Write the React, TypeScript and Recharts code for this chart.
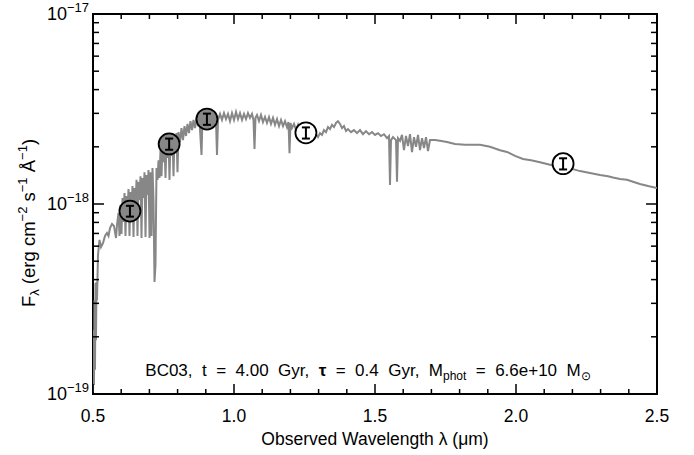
import React from 'react';
import { ComposedChart, Line, XAxis, YAxis, Customized } from 'recharts';

// Spectrum: observed wavelength (micron) and flux density (units of 1e-18 erg cm^-2 s^-1 A^-1)
const specWave = [
  0.5000, 0.5018, 0.5035, 0.5053, 0.5071, 0.5089, 0.5106, 0.5124, 0.5142, 0.5177,
  0.5230, 0.5284, 0.5355, 0.5426, 0.5496, 0.5550, 0.5603, 0.5674, 0.5745, 0.5816,
  0.5851, 0.5904, 0.5940,
  0.5975, 0.6011, 0.6046, 0.6082, 0.6117, 0.6152, 0.6188, 0.6223, 0.6259, 0.6294,
  0.6330, 0.6365, 0.6401, 0.6436, 0.6472, 0.6507, 0.6543, 0.6578, 0.6613, 0.6649,
  0.6684, 0.6720, 0.6755, 0.6791, 0.6826, 0.6862, 0.6897, 0.6933, 0.6968, 0.7004,
  0.7039, 0.7074, 0.7110, 0.7145, 0.7181, 0.7216, 0.7252, 0.7287,
  0.7323, 0.7358, 0.7394, 0.7429, 0.7465, 0.7500, 0.7535, 0.7571, 0.7606, 0.7642,
  0.7677, 0.7713, 0.7748, 0.7784, 0.7819, 0.7855, 0.7890, 0.7926, 0.7961, 0.7996,
  0.8032, 0.8085, 0.8138, 0.8191, 0.8245, 0.8298, 0.8351, 0.8404, 0.8457, 0.8511,
  0.8564, 0.8617, 0.8670, 0.8723, 0.8777, 0.8848, 0.8883, 0.8936, 0.9007, 0.9078,
  0.9149, 0.9220, 0.9291, 0.9362, 0.9397, 0.9433, 0.9504, 0.9574, 0.9645, 0.9716,
  0.9787, 0.9858, 0.9929, 1.0000, 1.0071, 1.0142, 1.0213, 1.0284, 1.0355, 1.0426,
  1.0496, 1.0567, 1.0638, 1.0691, 1.0727, 1.0762, 1.0816, 1.0887, 1.0957, 1.1028,
  1.1099, 1.1170, 1.1241, 1.1312, 1.1383, 1.1454, 1.1525, 1.1596, 1.1667, 1.1738,
  1.1809, 1.1879, 1.1933, 1.1968, 1.2004, 1.2057, 1.2128, 1.2199, 1.2270, 1.2340,
  1.2411, 1.2482, 1.2553, 1.2624, 1.2695, 1.2766, 1.2837, 1.2908, 1.2979, 1.3050,
  1.3121, 1.3191, 1.3262, 1.3333, 1.3404, 1.3475, 1.3546, 1.3617, 1.3688, 1.3759,
  1.3830, 1.3901, 1.3972, 1.4043, 1.4149, 1.4255, 1.4362, 1.4468, 1.4574, 1.4681,
  1.4787, 1.4894, 1.5000, 1.5106, 1.5213, 1.5319, 1.5426, 1.5496, 1.5532, 1.5567,
  1.5638, 1.5745, 1.5780, 1.5816, 1.5887, 1.5957, 1.6028, 1.6099, 1.6170, 1.6241,
  1.6312, 1.6383, 1.6454, 1.6525, 1.6596, 1.6667, 1.6738, 1.6809, 1.6879, 1.6950,
  1.7128, 1.7305, 1.7553, 1.7837, 1.8191, 1.8723, 1.9078, 1.9433, 1.9681, 1.9965,
  2.0248, 2.0532, 2.0851, 2.1135, 2.1383, 2.1667, 2.1986, 2.2270, 2.2624, 2.2979,
  2.3262, 2.3440, 2.3688, 2.3936, 2.4149, 2.4397, 2.4681, 2.5000,
];
const specFlux = [
  0.1025, 0.217, 0.1115, 0.312, 0.134, 0.384, 0.192, 0.389, 0.312, 0.539,
  0.647, 0.594, 0.623, 0.679, 0.704, 0.679, 0.748, 0.785, 0.766, 0.662,
  0.775, 0.897, 0.679,
  0.988, 0.695, 1.075, 0.804, 1.143, 0.679, 1.102, 0.886, 1.199, 0.679,
  1.156, 0.930, 1.244, 0.670, 1.214, 0.988, 1.340, 0.679, 1.310, 1.050,
  1.400, 0.662, 1.370, 1.075, 1.470, 0.670, 1.420, 1.115, 1.510, 0.662,
  1.470, 0.679, 1.545, 1.050, 0.389, 0.478, 1.545, 1.340,
  1.700, 1.370, 1.920, 1.400, 2.020, 1.660, 2.050, 1.370, 2.090, 1.746,
  2.170, 1.340, 2.170, 1.790, 2.250, 1.400, 2.280, 1.920, 2.360, 1.470,
  2.390, 2.120, 2.510, 2.170, 2.570, 2.280, 2.640, 2.360, 2.730, 2.450,
  2.770, 2.510, 2.840, 2.570, 2.730, 1.810, 2.840, 2.640, 2.900, 2.700,
  2.870, 2.670, 2.940, 2.700, 1.810, 2.770, 2.980, 2.770, 3.010, 2.800,
  2.980, 2.730, 3.010, 2.770, 3.050, 2.800, 3.010, 2.770, 2.980, 2.800,
  3.010, 2.840, 2.980, 2.770, 1.946, 2.840, 2.940, 2.730, 2.940, 2.700,
  2.870, 2.670, 2.870, 2.640, 2.840, 2.610, 2.800, 2.570, 2.770, 2.570,
  2.730, 2.540, 2.700, 1.850, 2.670, 2.510, 2.640, 2.450, 2.610, 2.420,
  2.540, 2.390, 2.510, 2.360, 2.570, 2.420, 2.510, 2.330, 2.250, 2.360,
  2.310, 2.450, 2.390, 2.540, 2.480, 2.610, 2.540, 2.670, 2.730, 2.640,
  2.510, 2.570, 2.420, 2.480, 2.390, 2.450, 2.360, 2.450, 2.330, 2.420,
  2.330, 2.390, 2.310, 2.360, 2.280, 2.330, 2.220, 2.280, 1.260, 2.170,
  2.250, 2.170, 1.310, 2.220, 2.150, 2.310, 1.920, 2.280, 2.020, 2.330,
  1.877, 2.250, 2.000, 2.310, 1.920, 2.220, 1.970, 2.250, 1.900, 2.170,
  2.170, 2.150, 2.120, 2.070, 2.050, 2.050, 2.000, 1.920, 1.880, 1.790,
  1.725, 1.700, 1.660, 1.620, 1.585, 1.570, 1.530, 1.490, 1.456, 1.420,
  1.400, 1.378, 1.354, 1.340, 1.310, 1.274, 1.243, 1.214,
];

// Photometry
const photWave = [0.631, 0.770, 0.904, 1.255, 2.167];
const photFlux = [0.918, 2.07, 2.80, 2.37, 1.63];
const photErr = [0.06, 0.14, 0.19, 0.16, 0.11];

// Axes
const xTicks = [0.5, 0.6, 0.7, 0.8, 0.9, 1.0, 1.1, 1.2, 1.3, 1.4, 1.5, 1.6, 1.7, 1.8, 1.9, 2.0, 2.1, 2.2, 2.3, 2.4, 2.5];
const xMajor = [0.5, 1.0, 1.5, 2.0, 2.5];
const xMajorLabels = ['0.5', '1.0', '1.5', '2.0', '2.5'];
const yTicks = [0.1, 0.2, 0.3, 0.4, 0.5, 0.6, 0.7, 0.8, 0.9, 1, 2, 3, 4, 5, 6, 7, 8, 9, 10];
const yMajor = [0.1, 1, 10];
const yMajorExp = ['\u221219', '\u221218', '\u221217'];

const W = 694;
const H = 455;
const PL = 93, PR = 657, PT = 14, PB = 394;
const FONT = '"Liberation Sans", Arial, Helvetica, sans-serif';
const GRAY = '#878787';

const spectrum = specWave.map((w, i) => ({ w, f: specFlux[i] }));
// each photometric point: lower end, centre, upper end (centre carries the circle)
const photPts = photWave.flatMap((w, i) => [
  { w, f: photFlux[i] - photErr[i], part: 'lo' },
  { w, f: photFlux[i], part: 'mid' },
  { w, f: photFlux[i] + photErr[i], part: 'hi' },
]);

const findIdx = (arr: number[], v: number) => arr.findIndex((m) => Math.abs(m - v) < 1e-6);

const XTick = (props: any) => {
  const { x, payload } = props;
  const mi = findIdx(xMajor, payload.value);
  const len = mi >= 0 ? 10 : 5;
  return (
    <g>
      <line x1={x} x2={x} y1={PB} y2={PB - len} stroke="#000" strokeWidth={1.5} />
      <line x1={x} x2={x} y1={PT} y2={PT + len} stroke="#000" strokeWidth={1.5} />
      {mi >= 0 && (
        <text x={x} y={PB + 28} textAnchor="middle" fontSize={17.5} fontFamily={FONT} fill="#000">
          {xMajorLabels[mi]}
        </text>
      )}
    </g>
  );
};

const YTick = (props: any) => {
  const { y, payload } = props;
  const mi = findIdx(yMajor, payload.value);
  const len = mi >= 0 ? 11 : 6;
  return (
    <g>
      <line x1={PL} x2={PL + len} y1={y} y2={y} stroke="#000" strokeWidth={1.5} />
      <line x1={PR} x2={PR - len} y1={y} y2={y} stroke="#000" strokeWidth={1.5} />
      {mi >= 0 && (
        <text x={PL - 4} y={y + 6} textAnchor="end" fontSize={18} fontFamily={FONT} fill="#000">
          10<tspan dy={-8} fontSize={13}>{yMajorExp[mi]}</tspan>
        </text>
      )}
    </g>
  );
};

// Dot renderer: circle + "I" error bar drawn at the centre point, using the
// scaled positions of its neighbouring lower/upper points.
const PhotDot = (props: any) => {
  const { cx, cy, payload, index, points } = props;
  const key = `p${index}`;
  if (cx == null || cy == null || !payload || payload.part !== 'mid') return <g key={key} />;
  const lo = points && points[index - 1];
  const hi = points && points[index + 1];
  const yLo = lo && Number.isFinite(lo.y) ? lo.y : cy + 5;
  const yHi = hi && Number.isFinite(hi.y) ? hi.y : cy - 5;
  const inDense = payload.w < 1.0;
  return (
    <g key={key}>
      <circle cx={cx} cy={cy} r={10.5} fill={inDense ? GRAY : '#fff'} stroke="#000" strokeWidth={1.8} />
      <line x1={cx} x2={cx} y1={yLo} y2={yHi} stroke="#000" strokeWidth={2} />
      <line x1={cx - 4} x2={cx + 4} y1={yLo} y2={yLo} stroke="#000" strokeWidth={2} />
      <line x1={cx - 4} x2={cx + 4} y1={yHi} y2={yHi} stroke="#000" strokeWidth={2} />
    </g>
  );
};

const Decor = () => (
  <g fontFamily={FONT} fill="#000">
    <rect x={PL} y={PT} width={PR - PL} height={PB - PT} fill="none" stroke="#000" strokeWidth={2} />
    <text x={375} y={445} textAnchor="middle" fontSize={17.5}>
      Observed Wavelength λ (μm)
    </text>
    <text transform="translate(35,223) rotate(-90)" textAnchor="middle" fontSize={18.5}>
      F<tspan dy={4} fontSize={13}>λ</tspan>
      <tspan dy={-4}> (erg cm</tspan>
      <tspan dy={-8} fontSize={13}>−2</tspan>
      <tspan dy={8}> s</tspan>
      <tspan dy={-8} fontSize={13}>−1</tspan>
      <tspan dy={8}> Å</tspan>
      <tspan dy={-8} fontSize={13}>−1</tspan>
      <tspan dy={8}>)</tspan>
    </text>
    <text x={368} y={376} textAnchor="middle" fontSize={17} style={{ whiteSpace: 'pre' }}>
      {'BC03,  t  =  4.00  Gyr,  '}
      <tspan fontWeight="bold">τ</tspan>
      {'  =  0.4  Gyr,  M'}
      <tspan dy={4} fontSize={12}>phot</tspan>
      <tspan dy={-4}>{'  =  6.6e+10  M'}</tspan>
      <tspan dy={4} fontSize={12}>⊙</tspan>
    </text>
  </g>
);

export default function App() {
  return (
    <div style={{ position: 'absolute', left: 0, top: 0, width: W, height: H, background: '#fff' }}>
      <ComposedChart width={W} height={H} margin={{ top: PT, right: W - PR, bottom: 11, left: 13 }}>
        <XAxis
          type="number"
          dataKey="w"
          domain={[0.5, 2.5]}
          ticks={xTicks}
          interval={0}
          allowDataOverflow
          axisLine={false}
          tickLine={false}
          tick={(p: any) => <XTick {...p} />}
          height={50}
        />
        <YAxis
          type="number"
          scale="log"
          domain={[0.1, 10]}
          ticks={yTicks}
          interval={0}
          allowDataOverflow
          axisLine={false}
          tickLine={false}
          tick={(p: any) => <YTick {...p} />}
          width={80}
        />
        <Line
          data={spectrum}
          dataKey="f"
          type="linear"
          stroke={GRAY}
          strokeWidth={2}
          dot={false}
          activeDot={false}
          isAnimationActive={false}
        />
        <Line
          data={photPts}
          dataKey="f"
          type="linear"
          stroke="none"
          strokeWidth={0}
          dot={(p: any) => <PhotDot {...p} />}
          activeDot={false}
          isAnimationActive={false}
        />
        <Customized component={Decor} />
      </ComposedChart>
    </div>
  );
}
